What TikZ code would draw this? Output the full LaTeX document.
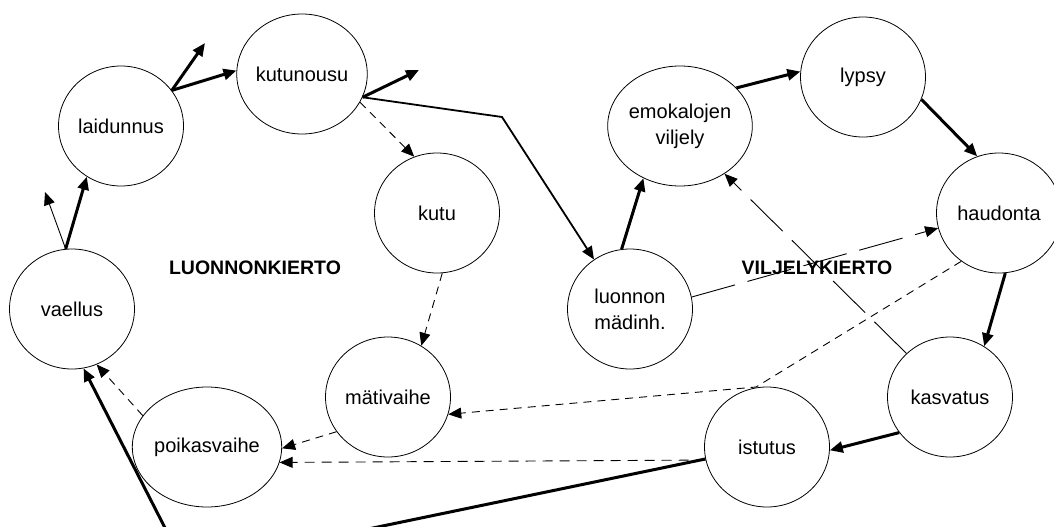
\documentclass[tikz,border=0pt]{standalone}
\usepackage{fontspec}
\setmainfont{Liberation Sans}
\usetikzlibrary{arrows.meta,shapes.geometric}
\tikzset{
  stage/.style={ellipse,draw,line width=0.8pt,minimum width=125pt,minimum height=120pt,inner sep=0pt,align=center,font=\fontsize{20}{26}\selectfont},
  tip/.style={-{Triangle[length=13pt,width=11pt]}},
  thickarr/.style={tip,line width=3pt},
  thinarr/.style={tip,line width=0.9pt},
  medarr/.style={tip,line width=1.8pt},
  shortdash/.style={thinarr,dash pattern=on 8pt off 6pt},
  middash/.style={thinarr,dash pattern=on 10pt off 7pt},
  longdash/.style={thinarr,dash pattern=on 45pt off 13pt},
  cyclelabel/.style={font=\fontsize{19.5}{24}\selectfont\bfseries}
}
\begin{document}
\begin{tikzpicture}[x=1pt,y=-1pt]
\useasboundingbox (0,0) rectangle (1054,527);
% nodes
\node[stage] (laidunnus) at (121,126) {laidunnus};
\node[stage] (kutunousu) at (302,74) {kutunousu};
\node[stage] (kutu) at (437,213) {kutu};
\node[stage] (vaellus) at (72,309) {vaellus};
\node[stage] (mativaihe) at (388,397) {mätivaihe};
\node[stage] (poikasvaihe) at (207,447) {poikasvaihe};
\node[stage] (emokalojen) at (680,126) {emokalojen\\viljely};
\node[stage] (lypsy) at (863,77) {lypsy};
\node[stage] (haudonta) at (999,213) {haudonta};
\node[stage] (luonnon) at (630,309) {luonnon\\mädinh.};
\node[stage] (kasvatus) at (950,397) {kasvatus};
\node[stage] (istutus) at (767,447) {istutus};
\node[cyclelabel] (luonnonkierto) at (255,268) {LUONNONKIERTO};
\node[cyclelabel] (viljelykierto) at (817,268) {VILJELYKIERTO};
% free ends and bends
\coordinate (vfree) at (45,192);
\coordinate (lfree) at (205,43);
\coordinate (kfree) at (419,70);
\coordinate (kbend) at (502,117);
\coordinate (hbend) at (756,387);
\coordinate (ibend) at (185,567);
% natural cycle
\draw[thickarr] (vaellus.96) -- (laidunnus.236);
\draw[thinarr] (vaellus.96) -- (vfree);
\draw[thickarr] (laidunnus.35) -- (kutunousu.177);
\draw[thickarr] (laidunnus.35) -- (lfree);
\draw[thickarr] (kutunousu.-21) -- (kfree);
\draw[medarr] (kutunousu.-21) -- (kbend) -- (luonnon.126);
\draw[shortdash] (kutunousu.-26) -- (kutu.112);
\draw[shortdash] (kutu.-85) -- (mativaihe.57);
\draw[shortdash] (mativaihe.214) -- (poikasvaihe.-1);
\draw[shortdash] (poikasvaihe.154) -- (vaellus.-66);
% cultivation cycle
\draw[thickarr] (luonnon.98) -- (emokalojen.235);
\draw[thickarr] (emokalojen.34) -- (lypsy.175);
\draw[thickarr] (lypsy.-21) -- (haudonta.111);
\draw[thickarr] (haudonta.-84) -- (kasvatus.56);
\draw[thickarr] (kasvatus.215) -- (istutus.-3);
\draw[longdash] (luonnon.11) -- (haudonta.194);
\draw[longdash] (kasvatus.135) -- (emokalojen.-47);
\draw[shortdash] (haudonta.232) -- (hbend) -- (mativaihe.-16);
\draw[middash] (istutus.192) -- (poikasvaihe.-12);
\draw[thickarr] (istutus.191) -- (ibend) -- (vaellus.-79);
\end{tikzpicture}
\end{document}
